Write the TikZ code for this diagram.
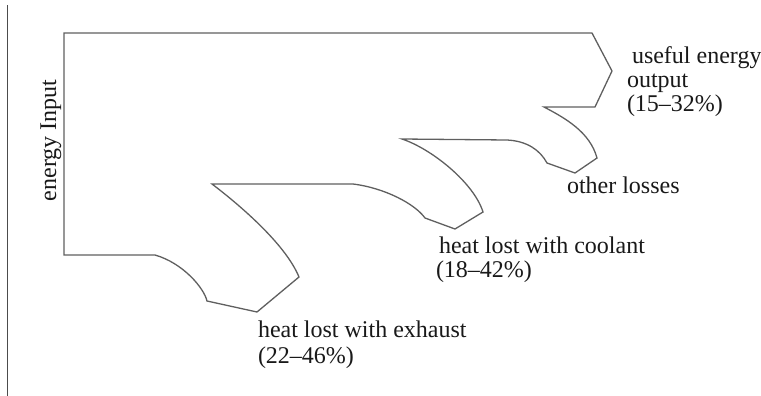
\documentclass[tikz,border=0pt]{standalone}
\usepackage{fontspec}
\setmainfont{Liberation Serif}
\definecolor{edgegray}{RGB}{95,95,95}
\definecolor{textdark}{RGB}{25,25,25}
\begin{document}
\begin{tikzpicture}[x=0.5pt,y=-0.5pt,
  flow/.style={draw=edgegray,line width=0.65pt,line join=miter},
  axisline/.style={draw=edgegray!80!black,line width=0.6pt},
  lbl/.style={anchor=base west,inner sep=0pt,outer sep=0pt,text=textdark,
    font=\fontsize{12}{14}\selectfont}]
\useasboundingbox (0,0) rectangle (761,396);

% left rule
\coordinate (ruletop) at (7.5,5);
\coordinate (rulebot) at (7.5,396);
\draw[axisline] (ruletop) -- (rulebot);

% energy flow outline: input on the left, branches splitting off downwards
\draw[flow] (64,33) -- (592,33) -- (612,71) -- (595,107) -- (544,107)
  .. controls (565,118) and (590,132) .. (597,158) -- (575,173) -- (547,163)
  .. controls (540,150) and (527,141) .. (507,140) -- (402,139)
  .. controls (432,149) and (474,183) .. (483,212) -- (455,229) -- (425,218)
  .. controls (415,204) and (385,188) .. (353,184) -- (212,184)
  .. controls (237,203) and (285,243) .. (299,277) -- (257,312) -- (207,301)
  .. controls (204,288) and (183,263) .. (155,255) -- (64,255) -- cycle;

% labels
\node[lbl,anchor=base,rotate=90] (input) at (56,140.5) {energy Input};

\node[lbl] (useful1) at (632,63) {useful energy};
\node[lbl] (useful2) at (627,87) {output};
\node[lbl] (useful3) at (627,112) {(15–32\%)};

\node[lbl] (other) at (567,193) {other losses};

\node[lbl] (cool1) at (439,253) {heat lost with coolant};
\node[lbl] (cool2) at (436,277) {(18–42\%)};

\node[lbl] (exh1) at (258,337) {heat lost with exhaust};
\node[lbl] (exh2) at (258,363) {(22–46\%)};
\end{tikzpicture}
\end{document}
